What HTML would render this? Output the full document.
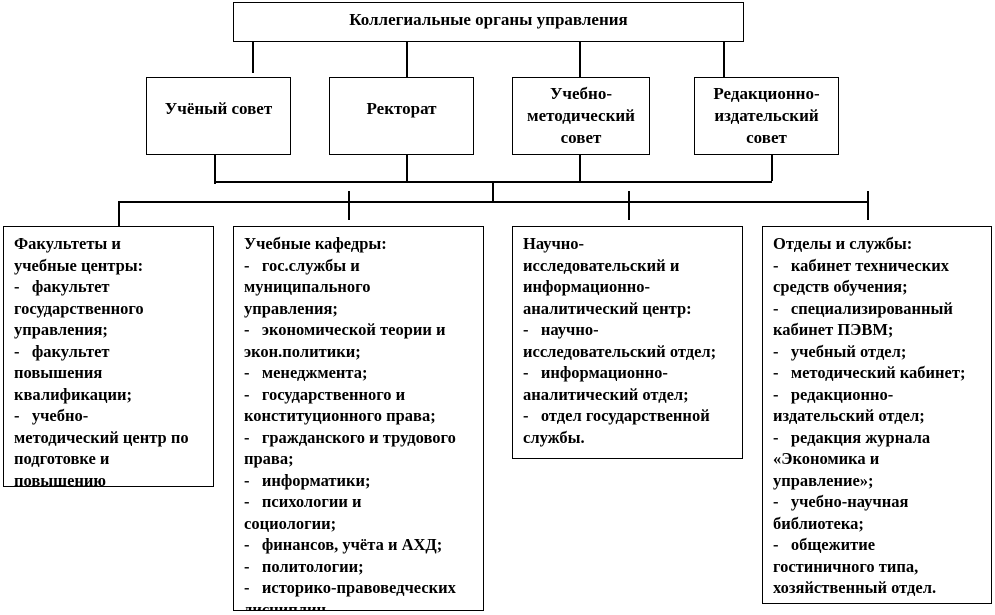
<!DOCTYPE html>
<html><head><meta charset="utf-8"><style>
body{margin:0;width:995px;height:615px;background:#fff;position:relative;overflow:hidden;font-family:"Liberation Serif","DejaVu Serif",serif;font-weight:bold;color:#000}
.b{position:absolute;border:1.5px solid #000;box-sizing:border-box;background:#fff}
.c{display:flex;align-items:center;justify-content:center;text-align:center;font-size:17px;line-height:22px}
.t{font-size:16.5px;line-height:21.5px;padding:6px 4px 0 10px;overflow:hidden;white-space:nowrap}
.h{position:absolute;height:1.5px;background:#000}
.v{position:absolute;width:1.5px;background:#000}
</style></head><body>
<div class="v" style="left:252px;top:35px;height:38px"></div>
<div class="v" style="left:406px;top:40px;height:38px"></div>
<div class="v" style="left:579px;top:40px;height:38px"></div>
<div class="v" style="left:723px;top:40px;height:38px"></div>
<div class="b c" style="left:233px;top:2px;width:511px;height:40px;align-items:flex-start;padding-top:6px">Коллегиальные органы управления</div>
<div class="b c" style="left:146px;top:77px;width:145px;height:78px;align-items:flex-start;padding-top:20px">Учёный совет</div>
<div class="b c" style="left:329px;top:77px;width:145px;height:78px;align-items:flex-start;padding-top:20px">Ректорат</div>
<div class="b c" style="left:512px;top:77px;width:138px;height:78px">Учебно-<br>методический<br>совет</div>
<div class="b c" style="left:694px;top:77px;width:145px;height:78px">Редакционно-<br>издательский<br>совет</div>
<div class="v" style="left:214px;top:154px;height:30px"></div>
<div class="v" style="left:406px;top:154px;height:27px"></div>
<div class="v" style="left:579px;top:154px;height:27px"></div>
<div class="v" style="left:771px;top:154px;height:27px"></div>
<div class="h" style="left:214px;top:181px;width:558px"></div>
<div class="v" style="left:492px;top:181px;height:21px"></div>
<div class="h" style="left:118px;top:201px;width:750px"></div>
<div class="v" style="left:118px;top:201px;height:26px"></div>
<div class="v" style="left:348px;top:191px;height:29px"></div>
<div class="v" style="left:628px;top:191px;height:29px"></div>
<div class="v" style="left:867px;top:191px;height:29px"></div>
<div class="b t" style="left:3px;top:226px;width:211px;height:261px">Факультеты и<br>учебные центры:<br>-&nbsp;&nbsp;&nbsp;факультет<br>государственного<br>управления;<br>-&nbsp;&nbsp;&nbsp;факультет<br>повышения<br>квалификации;<br>-&nbsp;&nbsp;&nbsp;учебно-<br>методический центр по<br>подготовке и<br>повышению</div>
<div class="b t" style="left:233px;top:226px;width:251px;height:385px">Учебные кафедры:<br>-&nbsp;&nbsp;&nbsp;гос.службы и<br>муниципального<br>управления;<br>-&nbsp;&nbsp;&nbsp;экономической теории и<br>экон.политики;<br>-&nbsp;&nbsp;&nbsp;менеджмента;<br>-&nbsp;&nbsp;&nbsp;государственного и<br>конституционного права;<br>-&nbsp;&nbsp;&nbsp;гражданского и трудового<br>права;<br>-&nbsp;&nbsp;&nbsp;информатики;<br>-&nbsp;&nbsp;&nbsp;психологии и<br>социологии;<br>-&nbsp;&nbsp;&nbsp;финансов, учёта и АХД;<br>-&nbsp;&nbsp;&nbsp;политологии;<br>-&nbsp;&nbsp;&nbsp;историко-правоведческих<br>дисциплин</div>
<div class="b t" style="left:512px;top:226px;width:231px;height:233px">Научно-<br>исследовательский и<br>информационно-<br>аналитический центр:<br>-&nbsp;&nbsp;&nbsp;научно-<br>исследовательский отдел;<br>-&nbsp;&nbsp;&nbsp;информационно-<br>аналитический отдел;<br>-&nbsp;&nbsp;&nbsp;отдел государственной<br>службы.</div>
<div class="b t" style="left:762px;top:226px;width:230px;height:378px">Отделы и службы:<br>-&nbsp;&nbsp;&nbsp;кабинет технических<br>средств обучения;<br>-&nbsp;&nbsp;&nbsp;специализированный<br>кабинет ПЭВМ;<br>-&nbsp;&nbsp;&nbsp;учебный отдел;<br>-&nbsp;&nbsp;&nbsp;методический кабинет;<br>-&nbsp;&nbsp;&nbsp;редакционно-<br>издательский отдел;<br>-&nbsp;&nbsp;&nbsp;редакция журнала<br>«Экономика и<br>управление»;<br>-&nbsp;&nbsp;&nbsp;учебно-научная<br>библиотека;<br>-&nbsp;&nbsp;&nbsp;общежитие<br>гостиничного типа,<br>хозяйственный отдел.</div>
</body></html>
